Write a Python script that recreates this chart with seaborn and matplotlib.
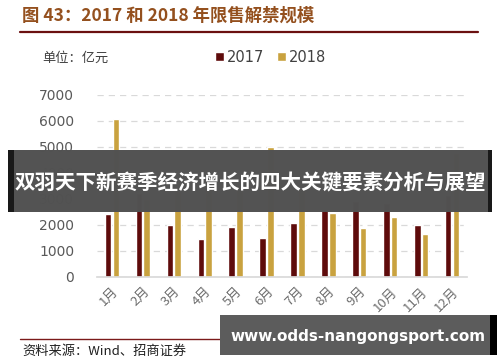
import matplotlib
matplotlib.use("Agg")
import matplotlib.pyplot as plt
import seaborn as sns
import pandas as pd
from matplotlib.patches import Rectangle
from matplotlib.lines import Line2D

months = ["1月", "2月", "3月", "4月", "5月", "6月", "7月", "8月", "9月", "10月", "11月", "12月"]
v2017 = [2410, 3200, 1980, 1440, 1925, 1500, 2050, 2590, 2910, 2850, 1990, 3150]
v2018 = [6050, 3000, 3300, 3400, 3500, 5000, 3400, 2440, 1890, 2280, 1650, 4750]
yticks = [0, 1000, 2000, 3000, 4000, 5000, 6000, 7000]

sns.set_theme(style="white")
plt.rcParams['font.family'] = ['Noto Sans CJK SC', 'DejaVu Sans']

df = pd.DataFrame({
    "month": months * 2,
    "value": v2017 + v2018,
    "year": ["2017"] * 12 + ["2018"] * 12,
})

W, H = 500, 362
fig = plt.figure(figsize=(5.0, 3.62), dpi=100)

def P(x, y):
    return (x / W, 1 - y / H)

ax = fig.add_axes([96.5 / W, 1 - 276.7 / H, 371 / W, (276.7 - 94.7) / H])
sns.barplot(data=df, x="month", y="value", hue="year", order=months,
            palette={"2017": "#5E0B0B", "2018": "#C9A23F"},
            width=0.5, gap=0.15, ax=ax, saturation=1)
ax.set_ylim(0, 7000)
ax.set_xlim(-0.5, 11.5)
ax.set_yticks(yticks)
ax.set_yticklabels([str(t) for t in yticks], fontsize=10, color="#595959", family="DejaVu Sans")
ax.yaxis.grid(True, linestyle=(0, (5, 4)), color="#D9D9D9", linewidth=0.9)
ax.set_axisbelow(True)
for s in ["left", "right", "top"]:
    ax.spines[s].set_visible(False)
ax.spines["bottom"].set_color("#D9D9D9")
ax.tick_params(axis="y", length=0, pad=16)
ax.tick_params(axis="x", length=0, pad=6)
ax.set_xticks(range(12))
ax.set_xticklabels(months, rotation=45, ha="right", rotation_mode="anchor",
                   fontsize=9.5, color="#6E6E6E")
ax.set_xlabel("")
ax.set_ylabel("")
handles, labels = ax.get_legend_handles_labels()
ax.get_legend().remove()
fig.legend(handles, labels, ncol=2, frameon=False, loc="center left",
           bbox_to_anchor=P(202, 57), handlelength=0.6, handleheight=0.6,
           handletextpad=0.2, columnspacing=0.9, prop={"family": "DejaVu Sans", "size": 10.5},
           labelcolor="#404040")

# Title and rules
fig.text(*P(22, 16), "图 43：2017 和 2018 年限售解禁规模", fontsize=12.5, fontweight="bold",
         color="#94501E", va="center", ha="left")
fig.add_artist(Line2D([20 / W, 478 / W], [1 - 31.5 / H] * 2, color="#6B1010", linewidth=1.6))
fig.text(*P(42, 58), "单位：亿元", fontsize=9.5, color="#404040", va="center", ha="left")
fig.add_artist(Line2D([20 / W, 480 / W], [1 - 339 / H] * 2, color="#7B1A1A", linewidth=1.0))
fig.text(*P(22, 351), "资料来源：Wind、招商证券", fontsize=9.5, color="#202020", va="center", ha="left")

# Overlay banner
fig.add_artist(Rectangle(P(8, 212), 484 / W, 62 / H, transform=fig.transFigure,
                         facecolor="#000000", edgecolor="none", alpha=0.9, zorder=10))
fig.add_artist(Rectangle(P(14, 212), 474 / W, 62 / H, transform=fig.transFigure,
                         facecolor="#5A5A5A", edgecolor="none", alpha=0.9, zorder=11))
fig.text(*P(250, 183), "双羽天下新赛季经济增长的四大关键要素分析与展望", fontsize=14.8,
         fontweight="bold", color="white", va="center", ha="center", zorder=12)

# Watermark box
fig.add_artist(Rectangle(P(220, 355), 277 / W, 40 / H, transform=fig.transFigure,
                         facecolor="#000000", edgecolor="none", zorder=10))
fig.add_artist(Rectangle(P(220, 355), 270 / W, 40 / H, transform=fig.transFigure,
                         facecolor="#5C5C5C", edgecolor="none", zorder=11))
fig.text(*P(358, 336), "www.odds-nangongsport.com", fontsize=11, fontweight="bold",
         color="white", va="center", ha="center", family="DejaVu Sans", zorder=12)

fig.savefig("out.png", dpi=100)
